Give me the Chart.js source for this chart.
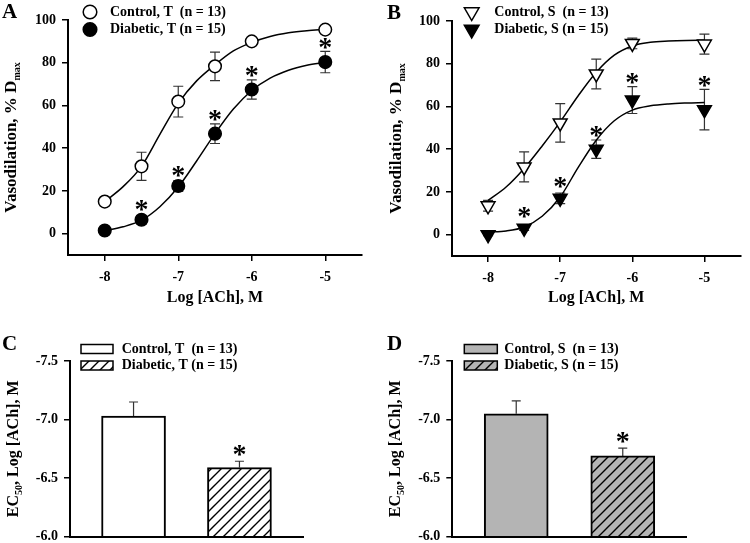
<!DOCTYPE html>
<html>
<head>
<meta charset="utf-8">
<title>ACh vasodilation, T and S</title>
<script src="https://cdn.jsdelivr.net/npm/chart.js@4.4.1/dist/chart.umd.min.js"></script>
<style>
  html, body { margin: 0; padding: 0; background: #fff; }
  body { width: 750px; height: 543px; position: relative; overflow: hidden; }
  canvas { position: absolute; }
</style>
</head>
<body>
<canvas id="panel-a" width="375" height="312" style="left:0;top:0"></canvas>
<canvas id="panel-b" width="375" height="312" style="left:375px;top:0"></canvas>
<canvas id="panel-c" width="375" height="262" style="left:0;top:290px"></canvas>
<canvas id="panel-d" width="375" height="262" style="left:375px;top:290px"></canvas>
<script>
// ---- data ----
var LOG_ACH = [-8, -7.5, -7, -6.5, -6, -5];
var X_TICKS = [-8, -7, -6, -5];
var PCT_TICKS = [0, 20, 40, 60, 80, 100];
var EC50_TICKS = [-7.5, -7.0, -6.5, -6.0];
var FIT_X = [-8, -7.75, -7.5, -7.25, -7, -6.75, -6.5, -6.25, -6, -5.75, -5.5, -5.25, -5];

// panel A (T)
var ctrlT = [15, 31.5, 61.8, 78.3, 90, 95.5];
var ctrlTse = [1.5, 6.6, 7.2, 6.7, 1.3, 1.5];
var diabT = [1.5, 6.5, 22.3, 46.8, 67.5, 80.3];
var diabTse = [1, 2, 2.5, 4.6, 4.5, 5];
var diabTsig = [false, true, true, true, true, true];
var ctrlTfit = [15, 22, 31.5, 46.5, 61, 71.5, 79, 85.5, 89.5, 92.3, 94, 95, 95.6];
var diabTfit = [1.3, 3.2, 6.3, 12.6, 21.8, 34, 46.8, 58.3, 67, 72.8, 76.5, 78.8, 80.2];

// panel B (S)
var ctrlS = [13.5, 31.7, 52.3, 75.2, 89.5, 89.2];
var ctrlSse = [2.5, 7, 9, 7, 2.5, 4.7];
var diabS = [0, 3, 17, 40, 63, 58.5];
var diabSse = [0.5, 1, 2.5, 4.3, 6.3, 9.5];
var diabSsig = [false, true, true, true, true, true];
var ctrlSfit = [16, 22.3, 31, 41.5, 52.8, 65, 76, 84, 88.3, 90, 90.6, 90.9, 91];
var diabSfit = [1.2, 1.7, 3.6, 8.6, 17.6, 31.5, 44.2, 53.3, 58.3, 60.3, 61.2, 61.6, 61.8];

// panels C, D: EC50 (log M)
var ec50T = [-7.03, -6.59];
var ec50Tse = [0.12, 0.054];
var ec50S = [-7.05, -6.69];
var ec50Sse = [0.11, 0.066];
var ec50Sig = [false, true];

var SERIF = '"Liberation Serif", "Times New Roman", serif';
var tickFont = { family: SERIF, size: 14, weight: 'bold' };
var titleFont = { family: SERIF, size: 16, weight: 'bold' };

function pts(xs, ys) { return xs.map(function (x, i) { return { x: x, y: ys[i] }; }); }

function makeHatch(bg) {
  var t = document.createElement('canvas');
  t.width = 10; t.height = 10;
  var g = t.getContext('2d');
  g.fillStyle = bg; g.fillRect(0, 0, 10, 10);
  g.strokeStyle = '#000'; g.lineWidth = 1.4;
  g.beginPath();
  g.moveTo(-1, 11); g.lineTo(11, -1);
  g.moveTo(-1, 1); g.lineTo(1, -1);
  g.moveTo(9, 11); g.lineTo(11, 9);
  g.stroke();
  return g.createPattern(t, 'repeat');
}

function drawMarker(ctx, style, r, fill, x, y) {
  ctx.beginPath();
  if (style === 'circle') {
    ctx.arc(x, y, r, 0, Math.PI * 2);
  } else { // down triangle
    var h = r * Math.sqrt(3) / 2;
    ctx.moveTo(x - h, y - r / 2);
    ctx.lineTo(x + h, y - r / 2);
    ctx.lineTo(x, y + r);
    ctx.closePath();
  }
  ctx.fillStyle = fill; ctx.fill();
  ctx.lineWidth = 1.5; ctx.strokeStyle = '#000'; ctx.stroke();
}

function drawStar(ctx, x, cy) {
  var size = 28;
  ctx.font = 'bold ' + size + 'px ' + SERIF;
  ctx.fillStyle = '#000';
  ctx.textAlign = 'center';
  ctx.textBaseline = 'alphabetic';
  ctx.fillText('*', x, cy + 0.48 * size);
}

// error bars, stars, panel letter, y title with subscript, legend
var figPlugin = {
  id: 'fig',
  beforeDatasetsDraw: function (chart) {
    var ctx = chart.ctx, ys = chart.scales.y;
    chart.data.datasets.forEach(function (ds, i) {
      if (!ds.se) return;
      var meta = chart.getDatasetMeta(i);
      ctx.save();
      ctx.strokeStyle = ds.errColor || '#333';
      ctx.lineWidth = 1.2;
      meta.data.forEach(function (el, j) {
        var v = ds.data[j].y, e = ds.se[j];
        var x = el.x, hw = ds.capHalf || 5;
        // bars: upper whisker only, away from the base
        var ends = ds.base !== undefined ? [v < ds.base ? v - e : v + e] : [v + e, v - e];
        ends.forEach(function (end) {
          var p = ys.getPixelForValue(end);
          ctx.beginPath();
          ctx.moveTo(x, el.y); ctx.lineTo(x, p);
          ctx.moveTo(x - hw, p); ctx.lineTo(x + hw, p);
          ctx.stroke();
        });
      });
      ctx.restore();
    });
  },
  afterDatasetsDraw: function (chart) {
    var ctx = chart.ctx, ys = chart.scales.y;
    chart.data.datasets.forEach(function (ds, i) {
      if (!ds.sig) return;
      var meta = chart.getDatasetMeta(i);
      ctx.save();
      meta.data.forEach(function (el, j) {
        if (!ds.sig[j]) return;
        var v = ds.data[j].y, e = ds.se[j], top;
        if (ds.base !== undefined) {
          top = ys.getPixelForValue(v < ds.base ? v - e : v + e) - 12;
        } else {
          top = Math.min(ys.getPixelForValue(v + e), el.y - ds.pointRadius) - 9;
        }
        drawStar(ctx, el.x, top);
      });
      ctx.restore();
    });
  },
  afterDraw: function (chart, args, o) {
    var ctx = chart.ctx, area = chart.chartArea;
    ctx.save();
    ctx.fillStyle = '#000';
    // panel letter
    ctx.font = 'bold 21px ' + SERIF;
    ctx.textAlign = 'left'; ctx.textBaseline = 'alphabetic';
    ctx.fillText(o.letter, o.letterX, o.letterY);
    // rotated y title with subscript
    ctx.save();
    ctx.translate(o.titleX, (area.top + area.bottom) / 2);
    ctx.rotate(-Math.PI / 2);
    var total = 0;
    o.title.forEach(function (s) {
      ctx.font = 'bold ' + s.size + 'px ' + SERIF;
      s.w = ctx.measureText(s.text).width;
      total += s.w;
    });
    var pos = -total / 2;
    o.title.forEach(function (s) {
      ctx.font = 'bold ' + s.size + 'px ' + SERIF;
      ctx.fillText(s.text, pos, s.dy || 0);
      pos += s.w;
    });
    ctx.restore();
    // legend
    var lg = o.legend;
    var items = chart.data.datasets.filter(function (ds) { return ds.label; });
    items.forEach(function (ds, k) {
      var cy = lg.rows[k];
      if (lg.box) {
        ctx.fillStyle = ds.backgroundColor;
        ctx.fillRect(lg.x, cy - lg.box[1] / 2, lg.box[0], lg.box[1]);
        ctx.lineWidth = 1.5; ctx.strokeStyle = '#000';
        ctx.strokeRect(lg.x, cy - lg.box[1] / 2, lg.box[0], lg.box[1]);
      } else {
        drawMarker(ctx, lg.style, ds.pointRadius + 0.5, ds.pointBackgroundColor, lg.x, cy);
      }
      ctx.fillStyle = '#000';
      ctx.font = 'bold 14px ' + SERIF;
      ctx.textBaseline = 'middle';
      ctx.fillText(ds.label, lg.textX, cy);
      ctx.textBaseline = 'alphabetic';
    });
    ctx.restore();
  }
};
Chart.register(figPlugin);

function doseChart(id, o) {
  var marker = function (label, vals, se, sig, fill) {
    return {
      label: label, data: pts(LOG_ACH, vals), se: se, sig: sig,
      pointStyle: o.style === 'circle' ? 'circle' : 'triangle',
      pointRotation: o.style === 'circle' ? 0 : 180,
      pointRadius: o.r, pointBackgroundColor: fill,
      pointBorderColor: '#000', pointBorderWidth: 1.5,
      showLine: false, order: 0
    };
  };
  var fit = function (vals) {
    return {
      data: pts(FIT_X, vals), showLine: true, borderColor: '#000', borderWidth: 1.5,
      pointRadius: 0, cubicInterpolationMode: 'monotone', order: 1
    };
  };
  return new Chart(document.getElementById(id), {
    type: 'scatter',
    data: {
      datasets: [
        fit(o.ctrlFit), fit(o.diabFit),
        marker(o.ctrlLabel, o.ctrl, o.ctrlSe, null, '#fff'),
        marker(o.diabLabel, o.diab, o.diabSe, o.diabSig, '#000')
      ]
    },
    options: {
      responsive: false, animation: false, events: [],
      layout: { padding: { top: o.top, right: o.right, left: 0, bottom: 0 } },
      plugins: {
        legend: { display: false }, tooltip: { enabled: false },
        fig: o.fig
      },
      scales: {
        x: {
          type: 'linear', min: -8.5, max: -4.5,
          afterBuildTicks: function (s) { s.ticks = X_TICKS.map(function (v) { return { value: v }; }); },
          afterFit: function (s) { s.height = o.xh; },
          border: { color: '#000', width: 2 },
          grid: { drawOnChartArea: false, color: '#000', lineWidth: 1.5, tickLength: 6 },
          ticks: { color: '#000', font: tickFont, padding: 8, maxRotation: 0, callback: function (v) { return String(v); } },
          title: { display: true, text: 'Log [ACh], M', color: '#000', font: titleFont, padding: { top: 0, bottom: 5 } }
        },
        y: {
          type: 'linear', min: -10, max: 100,
          afterBuildTicks: function (s) { s.ticks = PCT_TICKS.map(function (v) { return { value: v }; }); },
          afterFit: function (s) { s.width = o.yw; },
          border: { color: '#000', width: 2 },
          grid: { drawOnChartArea: false, color: '#000', lineWidth: 1.5, tickLength: 6 },
          ticks: { color: '#000', font: tickFont, padding: 6, callback: function (v) { return String(v); } }
        }
      }
    }
  });
}

function ec50Chart(id, o) {
  var hatch = makeHatch(o.fill);
  var bar = function (label, x, v, se, sig, bg) {
    return {
      label: label, data: [{ x: x, y: v }], se: [se], sig: [sig], base: -6,
      backgroundColor: bg, borderColor: '#000', borderWidth: 2, borderSkipped: 'start',
      barThickness: 64, grouped: false, capHalf: 4.5
    };
  };
  return new Chart(document.getElementById(id), {
    type: 'bar',
    data: {
      datasets: [
        bar(o.ctrlLabel, 1, o.vals[0], o.se[0], ec50Sig[0], o.fill),
        bar(o.diabLabel, 2, o.vals[1], o.se[1], ec50Sig[1], hatch)
      ]
    },
    options: {
      responsive: false, animation: false, events: [],
      layout: { padding: { top: 71, right: o.right, left: 0, bottom: 0 } },
      plugins: {
        legend: { display: false }, tooltip: { enabled: false },
        fig: o.fig
      },
      scales: {
        x: {
          type: 'linear', min: 0.4, max: 2.6, offset: false,
          afterFit: function (s) { s.height = 15.3; },
          border: { color: '#000', width: 2 },
          grid: { display: false },
          ticks: { display: false }
        },
        y: {
          type: 'linear', min: -7.5, max: -6.0, reverse: true,
          afterBuildTicks: function (s) { s.ticks = EC50_TICKS.map(function (v) { return { value: v }; }); },
          afterFit: function (s) { s.width = o.yw; },
          border: { color: '#000', width: 2 },
          grid: { drawOnChartArea: false, color: '#000', lineWidth: 1.5, tickLength: 6 },
          ticks: { color: '#000', font: tickFont, padding: 6, callback: function (v) { return v.toFixed(1); } }
        }
      }
    }
  });
}

doseChart('panel-a', {
  style: 'circle', r: 6.3, top: 20, right: 13, yw: 68, xh: 57,
  ctrlLabel: 'Control, T  (n = 13)', diabLabel: 'Diabetic, T (n = 15)',
  ctrl: ctrlT, ctrlSe: ctrlTse, diab: diabT, diabSe: diabTse, diabSig: diabTsig,
  ctrlFit: ctrlTfit, diabFit: diabTfit,
  fig: {
    letter: 'A', letterX: 2, letterY: 18, titleX: 16,
    title: [{ text: 'Vasodilation, % D', size: 17 }, { text: 'max', size: 10, dy: 4 }],
    legend: { style: 'circle', x: 90, textX: 110, rows: [12, 29.5] }
  }
});

doseChart('panel-b', {
  style: 'triangle', r: 8, top: 21, right: 4, yw: 77, xh: 56,
  ctrlLabel: 'Control, S  (n = 13)', diabLabel: 'Diabetic, S (n = 15)',
  ctrl: ctrlS, ctrlSe: ctrlSse, diab: diabS, diabSe: diabSse, diabSig: diabSsig,
  ctrlFit: ctrlSfit, diabFit: diabSfit,
  fig: {
    letter: 'B', letterX: 12, letterY: 19, titleX: 26,
    title: [{ text: 'Vasodilation, % D', size: 17 }, { text: 'max', size: 10, dy: 4 }],
    legend: { style: 'triangle', x: 96.7, textX: 119.3, rows: [12, 29.5] }
  }
});

ec50Chart('panel-c', {
  fill: '#ffffff', vals: ec50T, se: ec50Tse, right: 72, yw: 70,
  ctrlLabel: 'Control, T  (n = 13)', diabLabel: 'Diabetic, T (n = 15)',
  fig: {
    letter: 'C', letterX: 2, letterY: 60, titleX: 18,
    title: [{ text: 'EC', size: 16 }, { text: '50', size: 10, dy: 4 }, { text: ', Log [ACh], M', size: 16 }],
    legend: { box: [32, 9], x: 81, textX: 121.7, rows: [59, 75.5] }
  }
});

ec50Chart('panel-d', {
  fill: '#b4b4b4', vals: ec50S, se: ec50Sse, right: 63.3, yw: 77.3,
  ctrlLabel: 'Control, S  (n = 13)', diabLabel: 'Diabetic, S (n = 15)',
  fig: {
    letter: 'D', letterX: 12, letterY: 60, titleX: 25,
    title: [{ text: 'EC', size: 16 }, { text: '50', size: 10, dy: 4 }, { text: ', Log [ACh], M', size: 16 }],
    legend: { box: [33, 9], x: 89.3, textX: 129.3, rows: [59, 75.5] }
  }
});
</script>
</body>
</html>
